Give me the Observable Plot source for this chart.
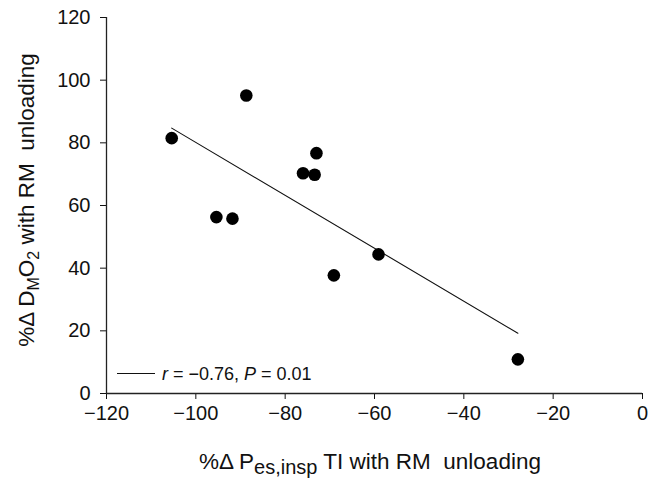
<!DOCTYPE html>
<html><head><meta charset="utf-8">
<script src="https://cdn.jsdelivr.net/npm/d3@7"></script>
<script src="https://cdn.jsdelivr.net/npm/@observablehq/plot@0.6"></script>
<style>body{margin:0;background:#fff} svg{display:block}</style>
</head><body><div id="chart"></div>
<script>
// % change in Pes,insp TI with RM unloading (x) vs % change in DMO2 (y)
const pesChange  = [-105.4, -88.7, -95.4, -91.8, -76.0, -73.4, -73.0, -69.1, -59.1, -27.9];
const dmo2Change = [  81.5,  95.1,  56.3,  55.8,  70.3,  69.8,  76.7,  37.7,  44.4,  10.9];
const xTicks = [-120, -100, -80, -60, -40, -20, 0];
const yTicks = [0, 20, 40, 60, 80, 100, 120];
const statR = "−0.76";
const statP = "0.01";

const data = pesChange.map((x, i) => ({x, y: dmo2Change[i]}));
const FONT = "'Liberation Sans', Arial, sans-serif";

const chart = Plot.plot({
  width: 648, height: 479,
  marginLeft: 106, marginRight: 6, marginTop: 17, marginBottom: 86,
  style: {fontFamily: FONT, fontSize: "20px", color: "#111", background: "#fff"},
  x: {domain: [-120, 0], ticks: xTicks},
  y: {domain: [0, 120], ticks: yTicks},
  marks: [
    Plot.axisX({ticks: xTicks, tickSize: 6, tickPadding: 6, label: null, fontSize: 20}),
    Plot.axisY({ticks: yTicks, tickSize: 6, tickPadding: 10, label: null, fontSize: 20}),
    Plot.ruleY([0], {stroke: "#222", strokeWidth: 1.3}),
    Plot.ruleX([-120], {stroke: "#222", strokeWidth: 1.3}),
    Plot.linearRegressionY(data, {x: "x", y: "y", ci: 0, stroke: "#111", strokeWidth: 1.1}),
    Plot.dot(data, {x: "x", y: "y", r: 6.3, fill: "#000", stroke: "none"})
  ]
});
document.getElementById("chart").append(chart);

const svg = d3.select(chart);
// legend
svg.append("line").attr("x1", 117).attr("x2", 155).attr("y1", 373.5).attr("y2", 373.5)
  .attr("stroke", "#111").attr("stroke-width", 1.1);
const lt = svg.append("text").attr("x", 162).attr("y", 380).attr("text-anchor", "start")
  .attr("font-family", FONT).attr("font-size", 18).attr("fill", "#111");
lt.append("tspan").attr("font-style", "italic").text("r");
lt.append("tspan").text(` = ${statR}, `);
lt.append("tspan").attr("font-style", "italic").text("P");
lt.append("tspan").text(` = ${statP}`);

// x axis title
const xt = svg.append("text").attr("x", 370).attr("y", 469).attr("text-anchor", "middle")
  .attr("font-family", FONT).attr("font-size", 22.5).attr("fill", "#111");
xt.append("tspan").text("%Δ P");
xt.append("tspan").attr("font-size", 20).attr("dy", 5).text("es,insp");
xt.append("tspan").attr("dy", -5).text(" TI with RM  unloading");

// y axis title
const yt = svg.append("text").attr("transform", "translate(34,200) rotate(-90)")
  .attr("text-anchor", "middle")
  .attr("font-family", FONT).attr("font-size", 22.5).attr("fill", "#111");
yt.append("tspan").text("%Δ D");
yt.append("tspan").attr("font-size", 16).attr("dy", 5).text("M");
yt.append("tspan").attr("dy", -5).text("O");
yt.append("tspan").attr("font-size", 16).attr("dy", 5).text("2");
yt.append("tspan").attr("dy", -5).text(" with RM  unloading");
</script>
</body></html>
